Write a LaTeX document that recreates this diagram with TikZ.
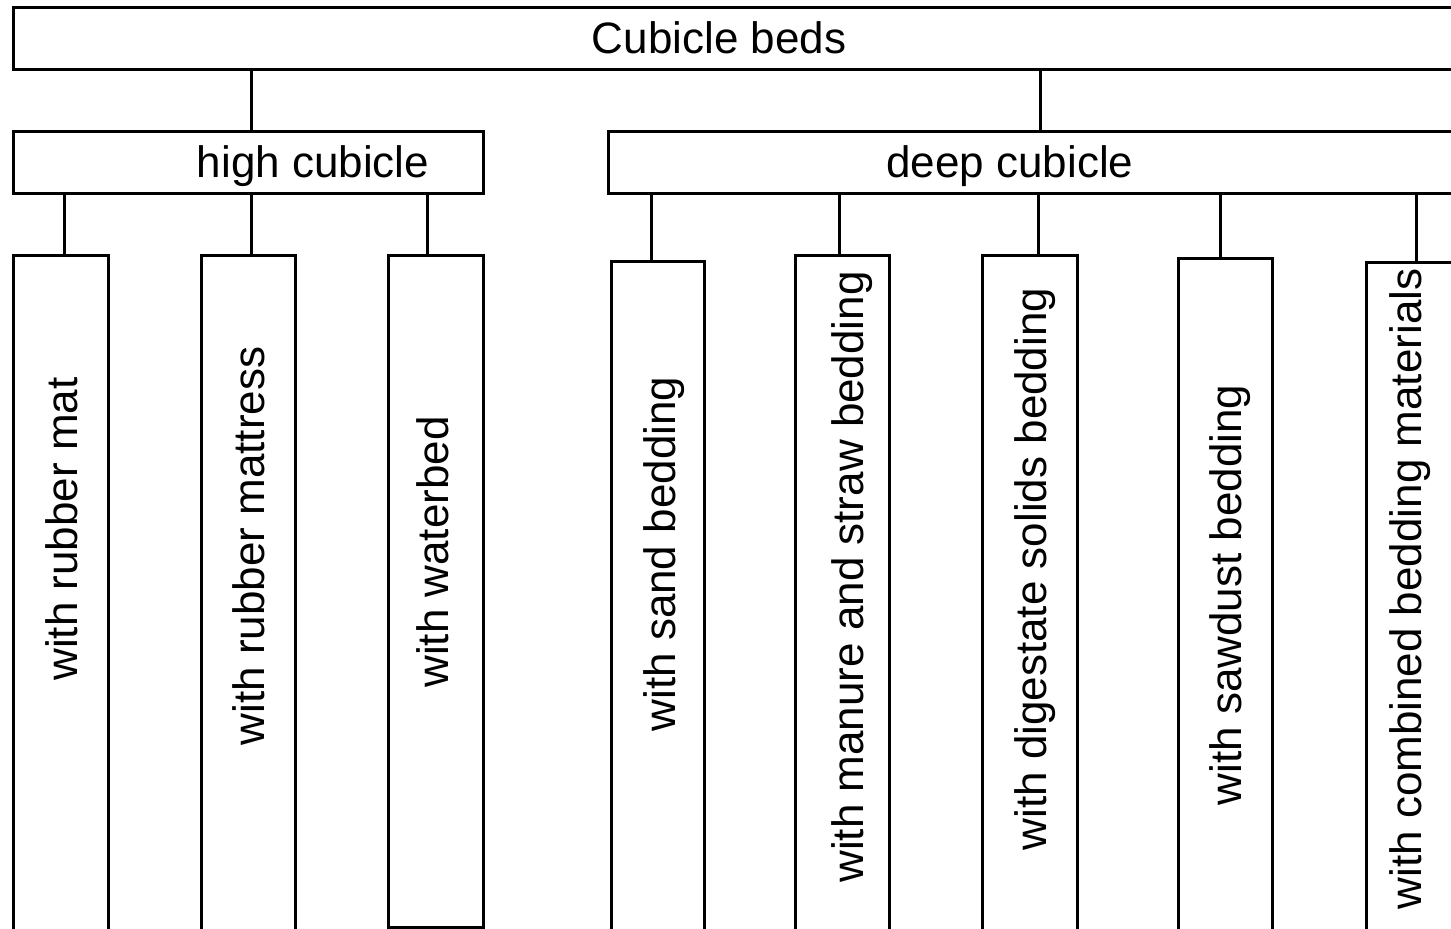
\documentclass[tikz,border=0pt]{standalone}
\usepackage{fontspec}
\setmainfont{Liberation Sans}
% box given by its corners in pixels
\def\cbox(#1)(#2,#3)(#4,#5){\node[box,minimum width={(#4-#2)*0.5pt},minimum height={(#5-#3)*0.5pt}] (#1) at (#2,#3) {};}

\begin{document}
\begin{tikzpicture}[x=0.5pt,y=-0.5pt,
	box/.style={draw,line width=1.5pt,outer sep=0pt,inner sep=0pt,anchor=north west},
	txt/.style={font=\fontsize{22}{26}\selectfont,inner sep=0pt,anchor=base},
	vtxt/.style={txt,rotate=90},
	link/.style={line width=1.5pt}]
	%%%%% START %%%%%
	\useasboundingbox (0,0) rectangle (1451,929);
	\clip (0,0) rectangle (1451,929);
	
	\cbox(top)(13,8)(1480,70)
	\cbox(high)(13,132)(483,194)
	\cbox(deep)(608,132)(1480,194)
	
	\cbox(L1)(13,256)(108,980)
	\cbox(L2)(201,256)(295,980)
	\cbox(L3)(388,256)(483,927)
	\cbox(L4)(611,262)(704,980)
	\cbox(L5)(795,256)(889,980)
	\cbox(L6)(982,256)(1077,980)
	\cbox(L7)(1178,259)(1272,980)
	\cbox(L8)(1366,263)(1480,980)
	
	\node[txt] (tTop) at (719,54) {Cubicle beds};
	\node[txt] (tHigh) at (313,178) {high cubicle};
	\node[txt] (tDeep) at (1010,178) {deep cubicle};
	
	\node[vtxt] (t1) at (77,529) {with rubber mat};
	\node[vtxt] (t2) at (264,546) {with rubber mattress};
	\node[vtxt] (t3) at (448,552) {with waterbed};
	\node[vtxt] (t4) at (675,554) {with sand bedding};
	\node[vtxt] (t5) at (863,577) {with manure and straw bedding};
	\node[vtxt] (t6) at (1046,569) {with digestate solids bedding};
	\node[vtxt] (t7) at (1241,595) {with sawdust bedding};
	\node[vtxt] (t8) at (1421,589) {with combined bedding materials};
	
	\draw[link] (251,0 |- top.south) -- (251,0 |- high.north);
	\draw[link] (1040,0 |- top.south) -- (1040,0 |- deep.north);
	\foreach \c/\p/\x in {L1/high/64, L2/high/251, L3/high/427, L4/deep/651,
		L5/deep/839, L6/deep/1038, L7/deep/1220, L8/deep/1416}
		\draw[link] (\x,0 |- \p.south) -- (\x,0 |- \c.north);
	%%%%% END %%%%%
\end{tikzpicture}
\end{document}
